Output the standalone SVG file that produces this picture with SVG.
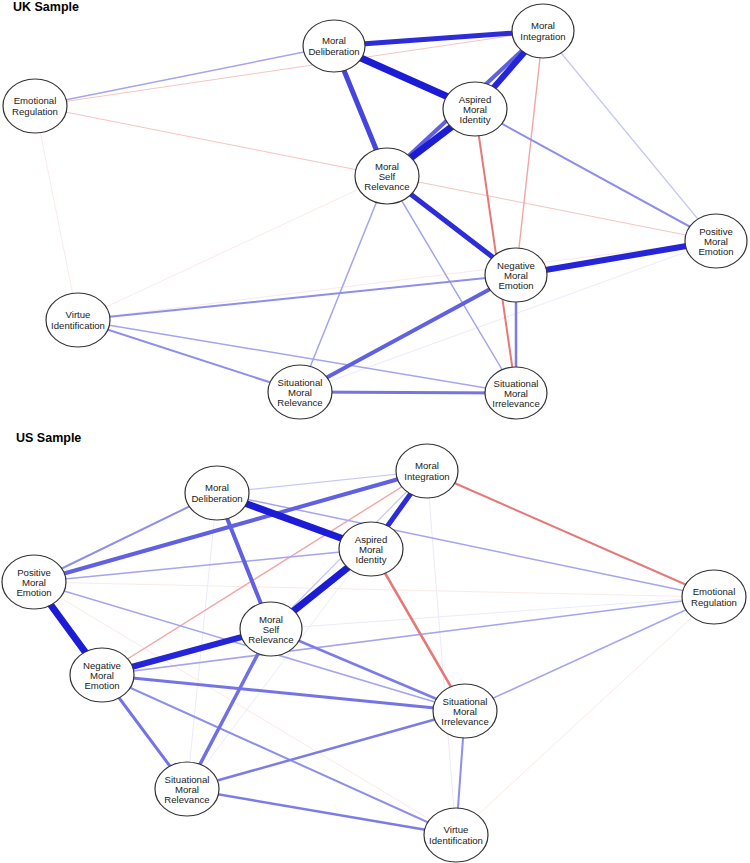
<svg xmlns="http://www.w3.org/2000/svg" width="750" height="863" viewBox="0 0 750 863">
<style>
.title{font-family:"Liberation Sans",Arial,sans-serif;font-weight:bold;font-size:12.5px;fill:#000}
.lbl{font-family:"Liberation Sans",Arial,sans-serif;font-size:9.6px;fill:#222;text-anchor:middle}
.node ellipse{fill:#fff;stroke:#333;stroke-width:1.2}
#edges line{stroke-linecap:round;fill:none}
.k7{stroke:#1c1cd6;stroke-width:7}
.k6{stroke:#2424d8;stroke-width:6}
.k5{stroke:#2c2cd9;stroke-width:5}
.m5{stroke:#4646dd;stroke-width:5}
.m4{stroke:#6060e2;stroke-width:4}
.m35{stroke:#7070e5;stroke-width:3.5}
.m3{stroke:#7474e6;stroke-width:3}
.m25{stroke:#7c7ce8;stroke-width:2.5}
.l2{stroke:#8e8eec;stroke-width:2}
.l15{stroke:#a4a4f1;stroke-width:1.5}
.l1{stroke:#c6c6f7;stroke-width:1.2}
.f1{stroke:#ebebfa;stroke-width:1}
.r2{stroke:#e67878;stroke-width:2}
.p15{stroke:#f0a6a6;stroke-width:1.4}
.p1{stroke:#f5c4c4;stroke-width:1}
.pf{stroke:#faeae6;stroke-width:1}
</style>
<rect width="750" height="863" fill="#fff"/>
<text class="title" x="13" y="11">UK Sample</text>
<text class="title" x="16" y="442">US Sample</text>
<g id="edges">
<line class="pf" x1="35" y1="106" x2="78" y2="320"/>
<line class="pf" x1="78" y1="320" x2="387" y2="176"/>
<line class="pf" x1="78" y1="320" x2="716" y2="241"/>
<line class="p1" x1="35" y1="106" x2="543" y2="31"/>
<line class="p1" x1="35" y1="106" x2="716" y2="241"/>
<line class="f1" x1="300" y1="392" x2="716" y2="241"/>
<line class="l1" x1="543" y1="31" x2="716" y2="241"/>
<line class="l15" x1="35" y1="106" x2="334" y2="46"/>
<line class="l15" x1="78" y1="320" x2="516" y2="393"/>
<line class="l15" x1="387" y1="176" x2="300" y2="392"/>
<line class="l15" x1="387" y1="176" x2="516" y2="393"/>
<line class="p15" x1="543" y1="31" x2="516" y2="275"/>
<line class="l2" x1="475" y1="109" x2="716" y2="241"/>
<line class="l2" x1="78" y1="320" x2="516" y2="275"/>
<line class="l2" x1="78" y1="320" x2="300" y2="392"/>
<line class="m25" x1="516" y1="275" x2="516" y2="393"/>
<line class="r2" x1="475" y1="109" x2="516" y2="393"/>
<line class="m3" x1="300" y1="392" x2="516" y2="393"/>
<line class="m4" x1="300" y1="392" x2="516" y2="275"/>
<line class="m5" x1="334" y1="46" x2="387" y2="176"/>
<line class="m4" x1="543" y1="31" x2="387" y2="176"/>
<line class="k5" x1="334" y1="46" x2="543" y2="31"/>
<line class="k6" x1="543" y1="31" x2="475" y2="109"/>
<line class="k7" x1="334" y1="46" x2="475" y2="109"/>
<line class="k7" x1="475" y1="109" x2="387" y2="176"/>
<line class="k5" x1="387" y1="176" x2="516" y2="275"/>
<line class="k6" x1="516" y1="275" x2="716" y2="241"/>
<line class="f1" x1="427" y1="471" x2="456" y2="835"/>
<line class="f1" x1="217" y1="493" x2="187" y2="789"/>
<line class="f1" x1="271" y1="629" x2="714" y2="597"/>
<line class="pf" x1="34" y1="582" x2="714" y2="597"/>
<line class="pf" x1="714" y1="597" x2="456" y2="835"/>
<line class="pf" x1="34" y1="582" x2="456" y2="835"/>
<line class="f1" x1="427" y1="471" x2="187" y2="789"/>
<line class="l1" x1="427" y1="471" x2="271" y2="629"/>
<line class="l1" x1="217" y1="493" x2="427" y2="471"/>
<line class="p15" x1="427" y1="471" x2="102" y2="675"/>
<line class="l15" x1="217" y1="493" x2="714" y2="597"/>
<line class="l15" x1="34" y1="582" x2="371" y2="549"/>
<line class="l15" x1="34" y1="582" x2="465" y2="711"/>
<line class="l15" x1="102" y1="675" x2="714" y2="597"/>
<line class="l15" x1="714" y1="597" x2="465" y2="711"/>
<line class="l2" x1="102" y1="675" x2="456" y2="835"/>
<line class="l2" x1="34" y1="582" x2="217" y2="493"/>
<line class="l2" x1="465" y1="711" x2="456" y2="835"/>
<line class="r2" x1="427" y1="471" x2="714" y2="597"/>
<line class="r2" x1="371" y1="549" x2="465" y2="711" style="stroke-width:2.5"/>
<line class="m25" x1="187" y1="789" x2="465" y2="711"/>
<line class="m25" x1="187" y1="789" x2="456" y2="835"/>
<line class="m25" x1="271" y1="629" x2="465" y2="711"/>
<line class="m3" x1="102" y1="675" x2="465" y2="711"/>
<line class="m3" x1="102" y1="675" x2="187" y2="789"/>
<line class="m35" x1="271" y1="629" x2="187" y2="789"/>
<line class="m4" x1="217" y1="493" x2="271" y2="629"/>
<line class="m4" x1="34" y1="582" x2="427" y2="471"/>
<line class="k5" x1="427" y1="471" x2="371" y2="549"/>
<line class="k7" x1="217" y1="493" x2="371" y2="549"/>
<line class="k7" x1="371" y1="549" x2="271" y2="629"/>
<line class="k6" x1="271" y1="629" x2="102" y2="675"/>
<line class="k7" x1="34" y1="582" x2="102" y2="675"/>
</g>
<g id="uk-md" class="node"><ellipse cx="334" cy="46" rx="31" ry="26"/><text class="lbl" x="334" y="44">Moral</text><text class="lbl" x="334" y="54.5">Deliberation</text></g>
<g id="uk-mi" class="node"><ellipse cx="543" cy="31" rx="31" ry="27"/><text class="lbl" x="543" y="29">Moral</text><text class="lbl" x="543" y="39.5">Integration</text></g>
<g id="uk-ami" class="node"><ellipse cx="475" cy="109" rx="32" ry="27"/><text class="lbl" x="475" y="102.5">Aspired</text><text class="lbl" x="475" y="112.5">Moral</text><text class="lbl" x="475" y="122.5">Identity</text></g>
<g id="uk-er" class="node"><ellipse cx="35" cy="106" rx="32" ry="27"/><text class="lbl" x="35" y="104">Emotional</text><text class="lbl" x="35" y="114.5">Regulation</text></g>
<g id="uk-msr" class="node"><ellipse cx="387" cy="176" rx="32" ry="28"/><text class="lbl" x="387" y="169.5">Moral</text><text class="lbl" x="387" y="179.5">Self</text><text class="lbl" x="387" y="189.5">Relevance</text></g>
<g id="uk-pme" class="node"><ellipse cx="716" cy="241" rx="31" ry="27"/><text class="lbl" x="716" y="234.5">Positive</text><text class="lbl" x="716" y="244.5">Moral</text><text class="lbl" x="716" y="254.5">Emotion</text></g>
<g id="uk-nme" class="node"><ellipse cx="516" cy="275" rx="31" ry="27"/><text class="lbl" x="516" y="268.5">Negative</text><text class="lbl" x="516" y="278.5">Moral</text><text class="lbl" x="516" y="288.5">Emotion</text></g>
<g id="uk-vi" class="node"><ellipse cx="78" cy="320" rx="32" ry="27"/><text class="lbl" x="78" y="318">Virtue</text><text class="lbl" x="78" y="328.5">Identification</text></g>
<g id="uk-smr" class="node"><ellipse cx="300" cy="392" rx="32" ry="27"/><text class="lbl" x="300" y="385.5">Situational</text><text class="lbl" x="300" y="395.5">Moral</text><text class="lbl" x="300" y="405.5">Relevance</text></g>
<g id="uk-smi" class="node"><ellipse cx="516" cy="393" rx="31" ry="26"/><text class="lbl" x="516" y="386.5">Situational</text><text class="lbl" x="516" y="396.5">Moral</text><text class="lbl" x="516" y="406.5">Irrelevance</text></g>
<g id="us-md" class="node"><ellipse cx="217" cy="493" rx="32" ry="27"/><text class="lbl" x="217" y="491">Moral</text><text class="lbl" x="217" y="501.5">Deliberation</text></g>
<g id="us-mi" class="node"><ellipse cx="427" cy="471" rx="31" ry="27"/><text class="lbl" x="427" y="469">Moral</text><text class="lbl" x="427" y="479.5">Integration</text></g>
<g id="us-ami" class="node"><ellipse cx="371" cy="549" rx="32" ry="27"/><text class="lbl" x="371" y="542.5">Aspired</text><text class="lbl" x="371" y="552.5">Moral</text><text class="lbl" x="371" y="562.5">Identity</text></g>
<g id="us-pme" class="node"><ellipse cx="34" cy="582" rx="32" ry="27"/><text class="lbl" x="34" y="575.5">Positive</text><text class="lbl" x="34" y="585.5">Moral</text><text class="lbl" x="34" y="595.5">Emotion</text></g>
<g id="us-er" class="node"><ellipse cx="714" cy="597" rx="32" ry="27"/><text class="lbl" x="714" y="595">Emotional</text><text class="lbl" x="714" y="605.5">Regulation</text></g>
<g id="us-msr" class="node"><ellipse cx="271" cy="629" rx="31" ry="27"/><text class="lbl" x="271" y="622.5">Moral</text><text class="lbl" x="271" y="632.5">Self</text><text class="lbl" x="271" y="642.5">Relevance</text></g>
<g id="us-nme" class="node"><ellipse cx="102" cy="675" rx="32" ry="27"/><text class="lbl" x="102" y="668.5">Negative</text><text class="lbl" x="102" y="678.5">Moral</text><text class="lbl" x="102" y="688.5">Emotion</text></g>
<g id="us-smr" class="node"><ellipse cx="187" cy="789" rx="32" ry="27"/><text class="lbl" x="187" y="782.5">Situational</text><text class="lbl" x="187" y="792.5">Moral</text><text class="lbl" x="187" y="802.5">Relevance</text></g>
<g id="us-smi" class="node"><ellipse cx="465" cy="711" rx="32" ry="27"/><text class="lbl" x="465" y="704.5">Situational</text><text class="lbl" x="465" y="714.5">Moral</text><text class="lbl" x="465" y="724.5">Irrelevance</text></g>
<g id="us-vi" class="node"><ellipse cx="456" cy="835" rx="32" ry="27"/><text class="lbl" x="456" y="833">Virtue</text><text class="lbl" x="456" y="843.5">Identification</text></g>
</svg>
